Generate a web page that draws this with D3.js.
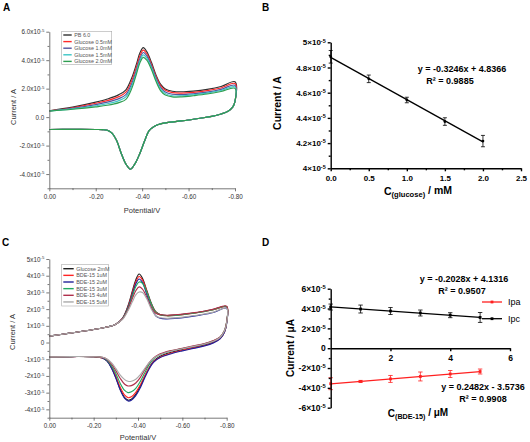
<!DOCTYPE html>
<html><head><meta charset="utf-8">
<script src="https://cdn.jsdelivr.net/npm/d3@7"></script>
<style>body{margin:0;background:#fff}svg{display:block;font-family:Arial,"Liberation Sans",sans-serif}</style>
</head><body><svg id="c" width="530" height="442"></svg>
<script>
// ---------------- Panel A data (current in units of 1e-5 A) ----------------
const potA_fwd = [0,-0.1,-0.2,-0.25,-0.3,-0.33,-0.355,-0.375,-0.39,-0.405,-0.42,-0.44,-0.46,-0.48,-0.5,-0.53,-0.57,-0.62,-0.68,-0.74,-0.8];
const labelsA = ["PB 6.0","Glucose 0.5mM","Glucose 1.0mM","Glucose 1.5mM","Glucose 2.0mM"];
const A_pb   = [0.45,0.70,1.05,1.27,1.58,1.92,2.75,3.70,4.50,4.88,4.60,3.85,2.95,2.30,1.98,1.82,1.78,1.83,1.95,2.15,2.48];
const A_g05  = [0.44,0.66,0.97,1.16,1.44,1.75,2.55,3.50,4.30,4.71,4.45,3.72,2.85,2.20,1.88,1.72,1.69,1.74,1.86,2.05,2.36];
const A_g10  = [0.43,0.62,0.88,1.05,1.30,1.58,2.35,3.30,4.10,4.54,4.30,3.60,2.75,2.08,1.76,1.61,1.58,1.64,1.76,1.95,2.24];
const A_g15  = [0.43,0.58,0.80,0.94,1.16,1.42,2.18,3.15,3.95,4.37,4.15,3.48,2.62,1.96,1.65,1.50,1.50,1.57,1.69,1.87,2.12];
const A_g20  = [0.42,0.55,0.72,0.83,1.02,1.25,2.00,3.00,3.80,4.20,4.00,3.35,2.50,1.85,1.55,1.42,1.42,1.50,1.62,1.80,2.02];
const potA_rev = [-0.8,-0.79,-0.77,-0.74,-0.7,-0.65,-0.6,-0.55,-0.5,-0.47,-0.45,-0.43,-0.41,-0.39,-0.37,-0.35,-0.33,-0.31,-0.29,-0.27,-0.25,-0.23,-0.2,-0.1,0];
const A_rev  = [1.10,0.70,0.42,0.22,0.05,-0.08,-0.20,-0.30,-0.40,-0.52,-0.68,-0.95,-1.70,-2.55,-3.25,-3.66,-3.30,-2.55,-1.65,-1.12,-0.92,-0.88,-0.87,-0.86,-0.87];
const yTicksA = [-4,-2,0,2,4,6];
const xTicksCV = [0,-0.2,-0.4,-0.6,-0.8];

// ---------------- Panel B data ----------------
const concB = [0,0.5,1.0,1.5,2.0];
const currB = [4.885,4.71,4.542,4.371,4.216];
const errB  = [0.05,0.03,0.022,0.03,0.045];
const yTicksB = [4.0,4.2,4.4,4.6,4.8,5.0];
const xTicksB = [0,0.5,1.0,1.5,2.0,2.5];

// ---------------- Panel C data ----------------
const potC_fwd = potA_fwd;
const labelsC = ["Glucose 2mM","BDE-15  1uM","BDE-15  2uM","BDE-15  3uM","BDE-15  4uM","BDE-15  5uM"];
const C_glu = [0.38,0.58,0.78,0.90,1.10,1.45,2.20,3.10,3.75,4.10,3.85,3.10,2.35,1.85,1.68,1.62,1.65,1.72,1.83,1.98,2.15];
const C_b1  = [0.38,0.58,0.78,0.90,1.10,1.45,2.15,3.00,3.62,3.95,3.75,3.05,2.30,1.82,1.66,1.60,1.63,1.70,1.81,1.96,2.14];
const C_b2  = [0.38,0.58,0.78,0.90,1.10,1.43,2.10,2.90,3.50,3.80,3.60,2.85,2.10,1.60,1.45,1.42,1.45,1.52,1.64,1.80,2.05];
const C_b3  = [0.38,0.58,0.78,0.90,1.10,1.42,2.05,2.80,3.35,3.62,3.55,3.00,2.30,1.80,1.65,1.60,1.62,1.70,1.81,1.97,2.15];
const C_b4  = [0.38,0.58,0.78,0.90,1.10,1.40,1.98,2.65,3.10,3.33,3.20,2.70,2.10,1.75,1.66,1.63,1.66,1.73,1.84,2.00,2.18];
const C_b5  = [0.38,0.58,0.78,0.90,1.10,1.38,1.90,2.45,2.85,3.02,3.00,2.60,2.00,1.60,1.48,1.45,1.48,1.55,1.66,1.82,2.05];
const potC_rev = [-0.8,-0.79,-0.77,-0.74,-0.7,-0.65,-0.6,-0.55,-0.5,-0.47,-0.45,-0.43,-0.41,-0.39,-0.37,-0.355,-0.34,-0.32,-0.3,-0.28,-0.26,-0.24,-0.2,-0.1,0];
const Cr_glu = [1.20,0.65,0.25,0.02,-0.15,-0.28,-0.42,-0.58,-0.82,-1.12,-1.52,-2.05,-2.62,-3.10,-3.40,-3.45,-3.30,-2.80,-2.10,-1.50,-1.10,-0.92,-0.85,-0.84,-0.86];
const Cr_b1  = [1.20,0.63,0.23,0.00,-0.18,-0.32,-0.46,-0.63,-0.88,-1.15,-1.52,-2.00,-2.55,-2.98,-3.25,-3.30,-3.15,-2.68,-2.00,-1.45,-1.08,-0.92,-0.85,-0.84,-0.86];
const Cr_b2  = [1.15,0.62,0.22,-0.02,-0.20,-0.35,-0.50,-0.67,-0.90,-1.18,-1.58,-2.12,-2.72,-3.18,-3.45,-3.50,-3.35,-2.85,-2.12,-1.52,-1.10,-0.93,-0.85,-0.84,-0.86];
const Cr_b3  = [1.25,0.72,0.32,0.10,-0.08,-0.22,-0.36,-0.50,-0.72,-0.98,-1.32,-1.82,-2.34,-2.74,-2.95,-3.00,-2.87,-2.45,-1.85,-1.38,-1.05,-0.90,-0.85,-0.84,-0.86];
const Cr_b4  = [1.25,0.72,0.34,0.12,-0.06,-0.20,-0.34,-0.48,-0.68,-0.92,-1.22,-1.64,-2.10,-2.42,-2.58,-2.60,-2.50,-2.15,-1.68,-1.28,-1.00,-0.89,-0.85,-0.84,-0.86];
const Cr_b5  = [1.20,0.70,0.30,0.08,-0.09,-0.23,-0.37,-0.52,-0.72,-0.94,-1.20,-1.56,-1.93,-2.20,-2.32,-2.32,-2.22,-1.95,-1.55,-1.20,-0.98,-0.88,-0.85,-0.84,-0.86];
const yTicksC = [-4,-3,-2,-1,0,1,2,3,4,5];

// ---------------- Panel D data ----------------
const concD = [0,1,2,3,4,5];
const Ipc = [4.15,3.95,3.75,3.55,3.33,3.10];
const IpcErr = [0.3,0.4,0.35,0.3,0.25,0.5];
const Ipa = [-3.58,-3.35,-3.10,-2.85,-2.60,-2.35];
const IpaErr = [0.6,0.1,0.35,0.45,0.35,0.25];
const yTicksD = [-6,-4,-2,0,2,4,6];
const xTicksD = [2,4,6];

const svg = d3.select("#c");

function sup(textSel, base, exp) {
  textSel.text(null);
  textSel.append("tspan").text(base);
  if (exp) textSel.append("tspan").attr("dy","-0.5em").attr("font-size","0.68em").text(exp);
}

function regress(xs, ys) {
  const mx = d3.mean(xs), my = d3.mean(ys);
  let sxy = 0, sxx = 0;
  xs.forEach((x,i)=>{ sxy += (x-mx)*(ys[i]-my); sxx += (x-mx)*(x-mx); });
  const m = sxy/sxx; return {m, b: my - m*mx};
}

// ---------- CV panel ----------
function cvPanel(cfg) {
  const g = svg.append("g");
  const x = d3.scaleLinear().domain([0,-0.8]).range(cfg.xr);
  const y = d3.scaleLinear().domain(cfg.yd).range(cfg.yr);
  const line = d3.line().x(d=>x(d[0])).y(d=>y(d[1])).curve(d3.curveCatmullRom.alpha(0.5));
  cfg.series.forEach((s,i)=>{
    const pts = cfg.fwdPot.map((p,j)=>[p, s.fwd[j]]).concat(cfg.revPot.map((p,j)=>[p, s.rev[j]]));
    g.append("path").attr("d", line(pts)).attr("fill","none").attr("stroke", s.color).attr("stroke-width",1.15);
  });
  const ya = g.append("g").attr("transform",`translate(${cfg.xr[0]},0)`)
    .call(d3.axisLeft(y).tickValues(cfg.yTicks).tickSize(3).tickSizeOuter(0).tickPadding(2));
  ya.selectAll(".tick text").each(function(d){ const t=d3.select(this); if(d===0) t.text(cfg.zero); else sup(t, cfg.yfmt(d)+"x10", "-5"); });
  g.append("g").attr("transform",`translate(${cfg.xr[0]},0)`)
    .call(d3.axisLeft(y).tickValues(cfg.yMinor).tickSize(1.8).tickFormat(()=>"")).select(".domain").remove();
  g.append("g").attr("transform",`translate(0,${cfg.yr[0]})`)
    .call(d3.axisBottom(x).tickValues(xTicksCV).tickSize(3).tickSizeOuter(0).tickPadding(cfg.xpad)
      .tickFormat(d=> d===0 ? "0.00" : d.toFixed(2)));
  g.append("g").attr("transform",`translate(0,${cfg.yr[0]})`)
    .call(d3.axisBottom(x).tickValues([-0.1,-0.3,-0.5,-0.7]).tickSize(1.8).tickFormat(()=>"")).select(".domain").remove();
  g.selectAll(".domain, .tick line").attr("stroke","#555").attr("stroke-width",0.8);
  g.selectAll(".tick text").attr("fill","#333").attr("font-size",6.3).attr("font-family","Arial,'Liberation Sans',sans-serif");
  g.append("text").attr("transform",`translate(${cfg.ytx},${cfg.yty}) rotate(-90)`).attr("text-anchor","middle")
    .attr("font-size",7.5).attr("fill","#333").text("Current / A");
  g.append("text").attr("x",cfg.xtx).attr("y",cfg.xty).attr("text-anchor","middle")
    .attr("font-size",7.5).attr("fill","#333").text("Potential/V");
  const L = cfg.legend;
  g.append("rect").attr("x",L.x).attr("y",L.y).attr("width",L.w).attr("height",L.h)
    .attr("fill","#fff").attr("stroke","#aaa").attr("stroke-width",0.6);
  cfg.series.forEach((s,i)=>{
    const yy = L.y + L.top + i*L.dy;
    g.append("line").attr("x1",L.x+1.6).attr("x2",L.x+L.lw).attr("y1",yy).attr("y2",yy)
      .attr("stroke",s.color).attr("stroke-width",1.4);
    g.append("text").attr("x",L.x+L.lw+2.5).attr("y",yy+1.9).attr("font-size",5.4).attr("fill","#555").text(s.label);
  });
}

const colorsA = ["#303030","#ff2a2a","#54549e","#3cc6c6","#2e9e50"];
cvPanel({
  xr:[49.3,235], yd:[-5,6], yr:[188.3,31.7], yTicks:yTicksA, yMinor:[-5,-3,-1,1,3,5],
  yfmt:d=>d.toFixed(1), zero:"0.0", xpad:3,
  fwdPot:potA_fwd, revPot:potA_rev,
  series:[A_pb,A_g05,A_g10,A_g15,A_g20].map((f,i)=>({fwd:f, rev:A_rev, color:colorsA[i], label:labelsA[i]})),
  ytx:15.5, yty:107, xtx:142, xty:213,
  legend:{x:61.7,y:31.5,w:50,h:33,top:3.5,dy:6.6,lw:10}
});

const colorsC = ["#202020","#ff2424","#22229a","#22a862","#b0304c","#aaaaaa"];
cvPanel({
  xr:[49.3,226.7], yd:[-4.5,5], yr:[417.7,259], yTicks:yTicksC, yMinor:[-4.5,-3.5,-2.5,-1.5,-0.5,0.5,1.5,2.5,3.5,4.5],
  yfmt:d=>String(d), zero:"0", xpad:3,
  fwdPot:potC_fwd, revPot:potC_rev,
  series:[[C_glu,Cr_glu],[C_b1,Cr_b1],[C_b2,Cr_b2],[C_b3,Cr_b3],[C_b4,Cr_b4],[C_b5,Cr_b5]]
    .map((p,i)=>({fwd:p[0], rev:p[1], color:colorsC[i], label:labelsC[i]})),
  ytx:14.5, yty:332, xtx:138, xty:440,
  legend:{x:61.7,y:264.3,w:46.6,h:41.7,top:4.4,dy:6.65,lw:12}
});

// ---------- Panel B ----------
(function(){
  const g = svg.append("g");
  const x = d3.scaleLinear().domain([0,2.5]).range([330.7,521]);
  const y = d3.scaleLinear().domain([4.0,5.0]).range([168.3,42.3]);
  const fit = regress(concB, currB);
  g.append("line").attr("x1",x(0)).attr("x2",x(2)).attr("y1",y(fit.b)).attr("y2",y(fit.b+fit.m*2))
    .attr("stroke","#000").attr("stroke-width",1.3);
  concB.forEach((c,i)=>{
    const cx=x(c), y1=y(currB[i]-errB[i]), y2=y(currB[i]+errB[i]);
    g.append("line").attr("x1",cx).attr("x2",cx).attr("y1",y1).attr("y2",y2).attr("stroke","#000").attr("stroke-width",0.8);
    [y1,y2].forEach(yy=>g.append("line").attr("x1",cx-2).attr("x2",cx+2).attr("y1",yy).attr("y2",yy).attr("stroke","#000").attr("stroke-width",0.8));
    g.append("circle").attr("cx",cx).attr("cy",y(currB[i])).attr("r",1.4).attr("fill","#000");
  });
  const ya = g.append("g").attr("transform","translate(330.7,0)")
    .call(d3.axisLeft(y).tickValues(yTicksB).tickSize(3).tickSizeOuter(0).tickPadding(2));
  ya.selectAll(".tick text").each(function(d){ sup(d3.select(this), String(+d.toFixed(1))+"×10", "-5"); });
  g.append("g").attr("transform","translate(330.7,0)")
    .call(d3.axisLeft(y).tickValues([4.1,4.3,4.5,4.7,4.9]).tickSize(2).tickFormat(()=>"")).select(".domain").remove();
  g.append("g").attr("transform","translate(0,168.3)")
    .call(d3.axisBottom(x).tickValues(xTicksB).tickSize(3).tickSizeOuter(0).tickPadding(4).tickFormat(d3.format(".1f")));
  g.append("g").attr("transform","translate(0,168.3)")
    .call(d3.axisBottom(x).tickValues([0.25,0.75,1.25,1.75,2.25]).tickSize(2).tickFormat(()=>"")).select(".domain").remove();
  g.selectAll(".domain, .tick line").attr("stroke","#000").attr("stroke-width",1.4);
  g.selectAll(".tick text").attr("fill","#000").attr("font-size",8).attr("font-weight","bold").attr("font-family","Arial,'Liberation Sans',sans-serif");
  g.append("text").attr("transform","translate(281,103) rotate(-90)").attr("text-anchor","middle")
    .attr("font-size",10.5).attr("font-weight","bold").text("Current / A");
  const xt = g.append("text").attr("x",418).attr("y",195).attr("text-anchor","middle").attr("font-size",10.5).attr("font-weight","bold");
  xt.append("tspan").text("C");
  xt.append("tspan").attr("dy","0.3em").attr("font-size","0.72em").text("(glucose)");
  xt.append("tspan").attr("dy","-0.3em").text(" / mM");
  g.append("text").attr("x",462).attr("y",72).attr("text-anchor","middle").attr("font-size",9).attr("font-weight","bold").text("y = -0.3246x + 4.8366");
  g.append("text").attr("x",450).attr("y",84).attr("text-anchor","middle").attr("font-size",9).attr("font-weight","bold").text("R² = 0.9885");
})();

// ---------- Panel D ----------
(function(){
  const g = svg.append("g");
  const x = d3.scaleLinear().domain([0,6]).range([330.7,510]);
  const y = d3.scaleLinear().domain([-6,6]).range([407.7,288.7]);
  const draw = (vals, errs, color) => {
    const fit = regress(concD, vals);
    g.append("line").attr("x1",x(0)).attr("x2",x(5)).attr("y1",y(fit.b)).attr("y2",y(fit.b+fit.m*5))
      .attr("stroke",color).attr("stroke-width",1.3);
    concD.forEach((c,i)=>{
      const cx=x(c), y1=y(vals[i]-errs[i]), y2=y(vals[i]+errs[i]);
      g.append("line").attr("x1",cx).attr("x2",cx).attr("y1",y1).attr("y2",y2).attr("stroke",color).attr("stroke-width",0.8);
      [y1,y2].forEach(yy=>g.append("line").attr("x1",cx-2.2).attr("x2",cx+2.2).attr("y1",yy).attr("y2",yy).attr("stroke",color).attr("stroke-width",0.8));
      g.append("rect").attr("x",cx-1.4).attr("y",y(vals[i])-1.4).attr("width",2.8).attr("height",2.8).attr("fill",color);
    });
  };
  draw(Ipc, IpcErr, "#000");
  draw(Ipa, IpaErr, "#ff2020");
  const ya = g.append("g").attr("transform","translate(330.7,0)")
    .call(d3.axisLeft(y).tickValues(yTicksD).tickSize(3).tickSizeOuter(0).tickPadding(2));
  ya.selectAll(".tick text").each(function(d){ const t=d3.select(this); if(d===0) t.text("0"); else sup(t, d+"×10", "-5"); });
  g.append("g").attr("transform","translate(330.7,0)")
    .call(d3.axisLeft(y).tickValues([-5,-3,-1,1,3,5]).tickSize(2).tickFormat(()=>"")).select(".domain").remove();
  g.append("g").attr("transform",`translate(0,${y(0)})`)
    .call(d3.axisBottom(x).tickValues(xTicksD).tickSize(3).tickSizeOuter(0).tickPadding(4).tickFormat(d3.format("d")));
  g.selectAll(".domain, .tick line").attr("stroke","#000").attr("stroke-width",1.4);
  g.selectAll(".tick text").attr("fill","#000").attr("font-size",8.5).attr("font-weight","bold").attr("font-family","Arial,'Liberation Sans',sans-serif");
  g.append("text").attr("transform","translate(294,348) rotate(-90)").attr("text-anchor","middle")
    .attr("font-size",10).attr("font-weight","bold").text("Current / μA");
  const xt = g.append("text").attr("x",418).attr("y",417).attr("text-anchor","middle").attr("font-size",10).attr("font-weight","bold");
  xt.append("tspan").text("C");
  xt.append("tspan").attr("dy","0.3em").attr("font-size","0.72em").text("(BDE-15)");
  xt.append("tspan").attr("dy","-0.3em").text(" / μM");
  g.append("text").attr("x",464).attr("y",281.5).attr("text-anchor","middle").attr("font-size",9).attr("font-weight","bold").text("y = -0.2028x + 4.1316");
  g.append("text").attr("x",462).attr("y",293.5).attr("text-anchor","middle").attr("font-size",9).attr("font-weight","bold").text("R² = 0.9507");
  g.append("text").attr("x",483).attr("y",390).attr("text-anchor","middle").attr("font-size",9).attr("font-weight","bold").text("y = 0.2482x - 3.5736");
  g.append("text").attr("x",483).attr("y",401.5).attr("text-anchor","middle").attr("font-size",9).attr("font-weight","bold").text("R² = 0.9908");
  [["Ipa","#ff2020",302],["Ipc","#000",318.7]].forEach(([lab,col,yy])=>{
    g.append("line").attr("x1",482).attr("x2",502).attr("y1",yy).attr("y2",yy).attr("stroke",col).attr("stroke-width",1.3);
    g.append("rect").attr("x",490.6).attr("y",yy-1.4).attr("width",2.8).attr("height",2.8).attr("fill",col);
    g.append("text").attr("x",508).attr("y",yy+3.2).attr("font-size",9).text(lab);
  });
})();

[["A",3,11],["B",262,11],["C",2,246],["D",262,246]].forEach(([t,x,y])=>
  svg.append("text").attr("x",x).attr("y",y).attr("font-size",10).attr("font-weight","bold").text(t));
</script></body></html>
